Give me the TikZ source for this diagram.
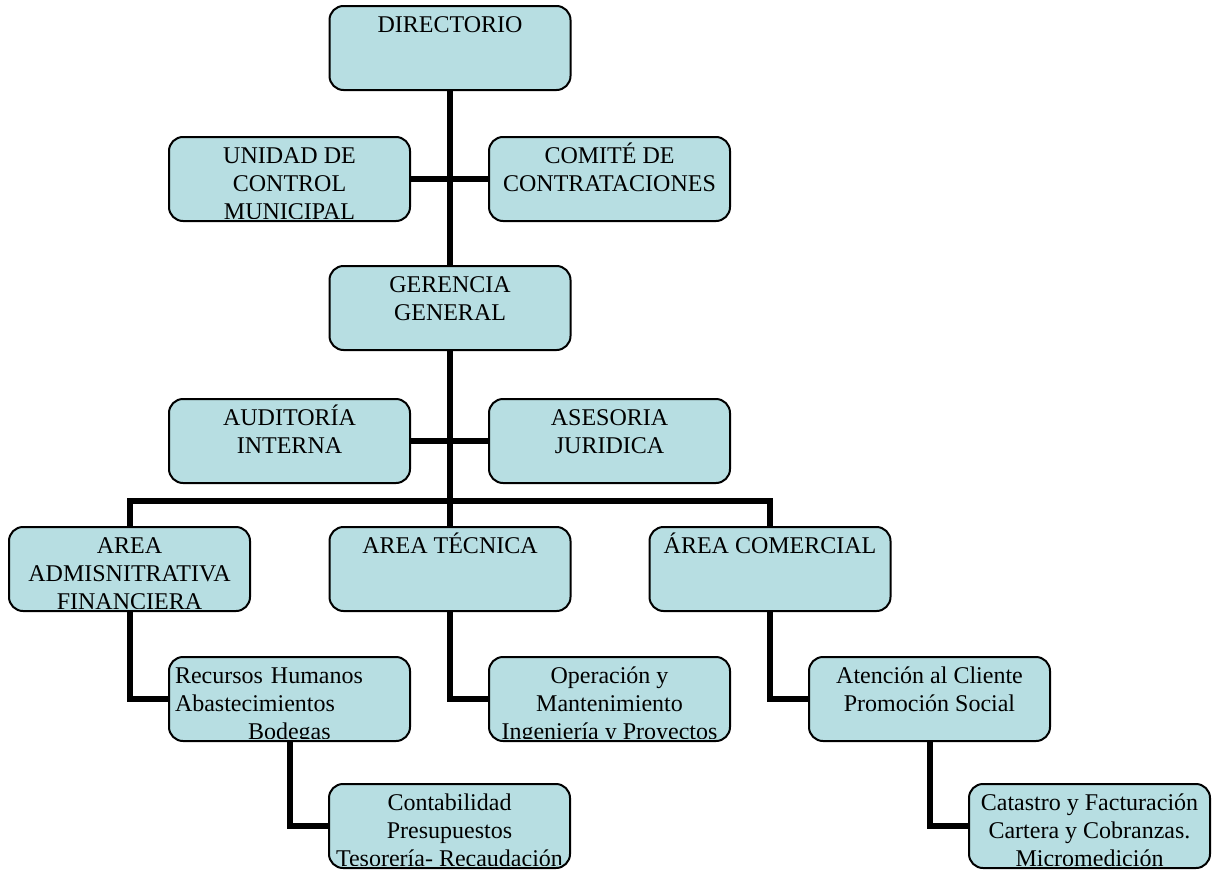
\documentclass[tikz,border=0pt]{standalone}
\usepackage{fontspec}
\setmainfont{Liberation Serif}
\definecolor{boxfill}{RGB}{183,222,226}
\setlength{\lineskiplimit}{-30pt}
\tikzset{
  unitbox/.style={draw=black, fill=boxfill, line width=2pt, rounded corners=14pt,
    minimum width=241pt, minimum height=84pt, inner sep=0pt, outer sep=0pt},
  unittext/.style={inner sep=0pt, anchor=north, align=center,
    font=\fontsize{24}{28}\selectfont},
  link/.style={line width=6pt, draw=black}
}
% one organisational unit: [text options]{name}{centre}{lines}
% the text hangs from the top edge and is cut off by the box
\newcommand\orgunit[4][]{%
  \node[unitbox] (#2) at (#3) {};
  \begin{scope}
    \clip[rounded corners=12pt] ([xshift=1pt,yshift=-1pt]#2.north west)
      rectangle ([xshift=-1pt,yshift=3pt]#2.south east);
    \node[unittext,#1] (#2-text) at ([yshift=-3pt]#2.north) {\rule{0pt}{23pt}#4};
  \end{scope}}

\begin{document}
\begin{tikzpicture}[x=1pt, y=-1pt]
\useasboundingbox (0,0) rectangle (1218,870);

\coordinate (bus) at (450,501);

% boxes
\orgunit{dir}{450,48}{DIRECTORIO}
\orgunit{uni}{289.5,179}{UNIDAD DE\\CONTROL\\MUNICIPAL}
\orgunit{comi}{609.5,179}{COMITÉ DE\\CONTRATACIONES}
\orgunit{ger}{450,308}{GERENCIA\\GENERAL}
\orgunit{aud}{289.5,441}{AUDITORÍA\\INTERNA}
\orgunit{ase}{609.5,441}{ASESORIA\\JURIDICA}
\orgunit{adm}{129.5,569}{AREA\\ADMISNITRATIVA\\FINANCIERA}
\orgunit{tec}{450,569}{AREA TÉCNICA}
\orgunit{com}{770,569}{ÁREA COMERCIAL}
\orgunit[align=left, text width=229pt]{rh}{289.5,699}{Recursos Humanos\\Abastecimientos\\\hspace*{73pt}Bodegas}
\orgunit{op}{609.5,699}{Operación y\\Mantenimiento\\Ingeniería y Proyectos}
\orgunit{at}{929.5,699}{Atención al Cliente\\Promoción Social}
\orgunit{cont}{449.5,826}{Contabilidad\\Presupuestos\\Tesorería- Recaudación}
\orgunit{cat}{1089.5,826}{Catastro y Facturación\\Cartera y Cobranzas.\\Micromedición}

% lines between units
\draw[link] (dir.south) -- (ger.north);
\draw[link] (uni.east) -- (comi.west);
\draw[link] (ger.south) -- (tec.north);
\draw[link] (aud.east) -- (ase.west);
\draw[link] (adm.north) -- (adm.north |- bus) -- (com.north |- bus) -- (com.north);
\draw[link] (adm.south) |- (rh.west);
\draw[link] (tec.south) |- (op.west);
\draw[link] (com.south) |- (at.west);
\draw[link] (rh.south) |- (cont.west);
\draw[link] (at.south) |- (cat.west);
\end{tikzpicture}
\end{document}
